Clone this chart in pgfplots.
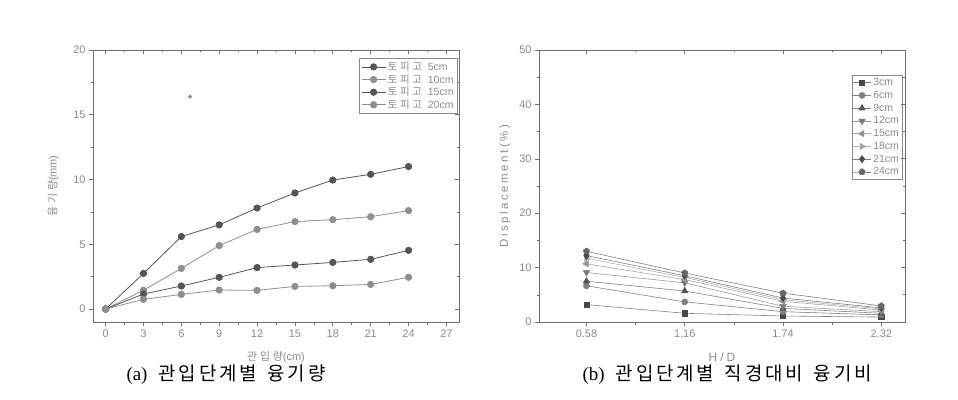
\documentclass[border=0pt]{standalone}
\usepackage{fontspec}
\setmainfont{Liberation Sans}
\newfontfamily\kr{Noto Sans CJK KR}
\newfontfamily\krsp{Noto Sans CJK KR}[LetterSpace=25]
\newfontfamily\krcap{Noto Sans CJK KR}[LetterSpace=14]
\newfontfamily\serif{Liberation Serif}
\usepackage{pgfplots}
\pgfplotsset{compat=1.18}
\definecolor{axgray}{HTML}{6E6E6E}
\definecolor{txgray}{HTML}{8A8A8A}
\definecolor{sdark}{HTML}{555555}
\definecolor{slight}{HTML}{8E8E8E}
\pgfplotsset{
  base/.style={scale only axis, width=366bp, height=272bp, anchor=south west,
    axis line style={axgray, line width=0.8pt},
    tick style={axgray, line width=0.6pt},
    major tick length=4bp, minor tick length=2.5bp,
    tick align=outside, xtick pos=left, ytick pos=left,
    minor x tick num=1, minor y tick num=1,
    ticklabel style={font=\fontsize{11}{12}\selectfont, text=txgray},
    /pgf/number format/assume math mode=true,
    clip=false},
  mirror/.style={scale only axis, width=366bp, height=272bp, anchor=south west,
    axis line style={axgray, line width=0.8pt},
    tick style={axgray, line width=0.6pt},
    major tick length=4bp, minor tick length=2.5bp,
    tick align=inside, xtick pos=right, ytick pos=right,
    minor x tick num=1, minor y tick num=1,
    xticklabels={}, yticklabels={}},
}
\begin{document}
\begin{tikzpicture}
\useasboundingbox (0,0) rectangle (958bp,400bp);
% ---------- (a) ----------
\begin{axis}[base, at={(93bp,78bp)},
  xmin=-1, xmax=28, ymin=-1, ymax=20,
  xtick={0,3,...,27}, ytick={0,5,10,15,20},
  xlabel={{\krsp 관입량}(cm)},
  xlabel style={at={(axis description cs:0.5,0)}, anchor=center, yshift=-35bp, font=\fontsize{11}{12}\selectfont, text=txgray},
  ylabel={{\krsp 융기량}(mm)},
  ylabel style={at={(axis description cs:-0.109,0.5)}, anchor=center, font=\fontsize{11}{12}\selectfont, text=txgray},
  legend style={at={(axis description cs:0.995,0.97)}, anchor=north east,
    draw=txgray, fill=white, font=\fontsize{10.5}{12}\selectfont, text=txgray,
    inner sep=1.5bp, row sep=-1.5bp},
  legend cell align=left,
  legend image code/.code={\draw[mark repeat=2,mark phase=2] plot coordinates {(0bp,0bp) (12bp,0bp) (24bp,0bp)};},
]
\addplot[sdark, line width=0.8pt, mark=*, mark size=3.2bp, mark options={fill=sdark, draw=sdark}]
  coordinates {(0,0) (3,2.75) (6,5.6) (9,6.5) (12,7.8) (15,8.96) (18,9.96) (21,10.4) (24,11.0)};
\addlegendentry{{\krsp 토피고}\ \ 5cm}
\addplot[slight, line width=0.8pt, mark=*, mark size=3.2bp, mark options={fill=slight, draw=slight}]
  coordinates {(0,0) (3,1.45) (6,3.14) (9,4.9) (12,6.15) (15,6.75) (18,6.9) (21,7.13) (24,7.6)};
\addlegendentry{{\krsp 토피고}\ \ 10cm}
\addplot[sdark, line width=0.8pt, mark=*, mark size=3.2bp, mark options={fill=sdark, draw=sdark}]
  coordinates {(0,0) (3,1.16) (6,1.78) (9,2.45) (12,3.2) (15,3.4) (18,3.6) (21,3.84) (24,4.53)};
\addlegendentry{{\krsp 토피고}\ \ 15cm}
\addplot[slight, line width=0.8pt, mark=*, mark size=3.2bp, mark options={fill=slight, draw=slight}]
  coordinates {(0,0) (3,0.75) (6,1.13) (9,1.47) (12,1.44) (15,1.75) (18,1.8) (21,1.9) (24,2.45)};
\addlegendentry{{\krsp 토피고}\ \ 20cm}
\addplot[only marks, slight, mark=*, mark size=1.8bp, forget plot] coordinates {(6.7,16.4)};
\end{axis}
\begin{axis}[mirror, at={(93bp,78bp)},
  xmin=-1, xmax=28, ymin=-1, ymax=20,
  xtick={0,3,...,27}, ytick={0,5,10,15,20}]
\end{axis}
% ---------- (b) ----------
\begin{axis}[base, at={(539bp,78bp)},
  xmin=0.30, xmax=2.46, ymin=0, ymax=50,
  xtick={0.58,1.16,1.74,2.32}, ytick={0,10,...,50},
  xticklabels={0.58,1.16,1.74,2.32},
  xlabel={\addfontfeatures{LetterSpace=25}H/D},
  xlabel style={at={(axis description cs:0.5,0)}, anchor=center, yshift=-35bp, font=\fontsize{12}{13}\selectfont, text=txgray},
  ylabel={\addfontfeatures{LetterSpace=22}Displacement(\%)},
  ylabel style={at={(axis description cs:-0.093,0.5)}, anchor=center, font=\fontsize{11.5}{12}\selectfont, text=txgray},
  legend style={at={(axis description cs:0.992,0.908)}, anchor=north east,
    draw=txgray, fill=white, font=\fontsize{10.5}{12}\selectfont, text=txgray,
    inner sep=1bp, row sep=0bp},
  legend cell align=left,
  legend image code/.code={\draw[mark repeat=2,mark phase=2] plot coordinates {(0bp,0bp) (9bp,0bp) (18bp,0bp)};},
]
\addplot[gray, line width=0.6pt, mark=square*, mark size=2.6bp, mark options={fill=black!72, draw=black!72}]
  coordinates {(0.58,3.2) (1.16,1.6) (1.74,1.1) (2.32,0.9)};
\addlegendentry{3cm}
\addplot[gray, line width=0.6pt, mark=*, mark size=3bp, mark options={fill=black!50, draw=black!50}]
  coordinates {(0.58,6.65) (1.16,3.7) (1.74,1.9) (2.32,1.3)};
\addlegendentry{6cm}
\addplot[gray, line width=0.6pt, mark=triangle*, mark size=3.6bp, mark options={fill=black!68, draw=black!68}]
  coordinates {(0.58,7.5) (1.16,5.7) (1.74,2.5) (2.32,1.6)};
\addlegendentry{9cm}
\addplot[gray!80, line width=0.6pt, mark=triangle*, mark size=3.6bp, mark options={fill=black!52, draw=black!52, rotate=180}]
  coordinates {(0.58,9.1) (1.16,7.2) (1.74,2.9) (2.32,1.9)};
\addlegendentry{12cm}
\addplot[gray!70, line width=0.6pt, mark=triangle*, mark size=3.6bp, mark options={fill=black!42, draw=black!42, rotate=90}]
  coordinates {(0.58,10.7) (1.16,7.8) (1.74,3.8) (2.32,2.2)};
\addlegendentry{15cm}
\addplot[gray!60, line width=0.6pt, mark=triangle*, mark size=3.6bp, mark options={fill=black!35, draw=black!35, rotate=-90}]
  coordinates {(0.58,11.7) (1.16,8.2) (1.74,4.1) (2.32,2.4)};
\addlegendentry{18cm}
\addplot[gray, line width=0.6pt, mark=diamond*, mark size=3.6bp, mark options={fill=black!70, draw=black!70}]
  coordinates {(0.58,12.2) (1.16,8.5) (1.74,4.4) (2.32,2.6)};
\addlegendentry{21cm}
\addplot[gray, line width=0.6pt, mark=pentagon*, mark size=3.3bp, mark options={fill=black!60, draw=black!60}]
  coordinates {(0.58,13.0) (1.16,9.0) (1.74,5.3) (2.32,2.95)};
\addlegendentry{24cm}
\end{axis}
\begin{axis}[mirror, at={(539bp,78bp)},
  xmin=0.30, xmax=2.46, ymin=0, ymax=50,
  xtick={0.58,1.16,1.74,2.32}, ytick={0,10,...,50}]
\end{axis}
% captions
\node[font=\fontsize{19}{21}\selectfont, text=black] at (226bp,25bp) {{\serif (a)}\hspace{0.6em}{\krcap 관입단계별}\hspace{0.6em}{\krcap 융기량}};
\node[font=\fontsize{19}{21}\selectfont, text=black] at (727bp,25bp) {{\serif (b)}\hspace{0.6em}{\krcap 관입단계별}\hspace{0.6em}{\krcap 직경대비}\hspace{0.6em}{\krcap 융기비}};
\end{tikzpicture}
\end{document}
